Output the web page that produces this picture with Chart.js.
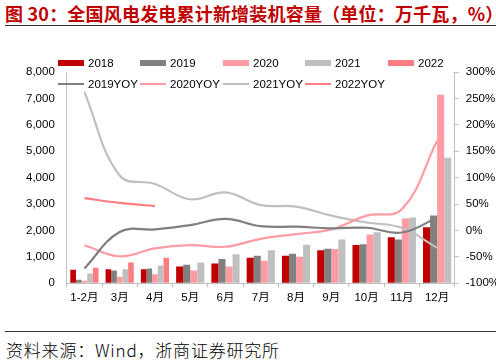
<!DOCTYPE html>
<html>
<head>
<meta charset="utf-8">
<script src="https://cdn.jsdelivr.net/npm/chart.js@4"></script>
<style>
  html, body { margin: 0; padding: 0; background: #fff; }
  body { width: 496px; height: 360px; overflow: hidden; position: relative; font-family: "Liberation Sans", "Noto Sans CJK SC", sans-serif; }
  #title { position: absolute; left: 5px; top: 0px; font: bold 18px "Noto Sans CJK SC", sans-serif; color: #C00000; white-space: nowrap; letter-spacing: 0.2px; }
  #rule1 { position: absolute; left: 5px; right: 0; top: 25px; border-top: 1.5px solid #333; }
  #rule2 { position: absolute; left: 5px; right: 0; top: 331px; border-top: 1.5px solid #333; }
  #source { position: absolute; left: 6px; top: 337px; font: 300 17px "Noto Sans CJK SC", sans-serif; color: #000; white-space: nowrap; letter-spacing: 0.8px; }
  #wrap { position: absolute; left: 0; top: 0; width: 506px; height: 320px; }
  .lg { position: absolute; font-size: 11.5px; color: #000; display: flex; align-items: center; white-space: nowrap; }
  .lg i { display: inline-block; width: 26px; margin-right: 4px; }
</style>
</head>
<body>
<div id="title">图 30：全国风电发电累计新增装机容量（单位：万千瓦，%）</div>
<div id="rule1"></div>
<div id="wrap"><canvas id="chart"></canvas></div>
<div id="legend"></div>
<div id="rule2"></div>
<div id="source">资料来源：Wind，浙商证券研究所</div>
<script>
const categories = ['1-2月', '3月', '4月', '5月', '6月', '7月', '8月', '9月', '10月', '11月', '12月'];

// cumulative new capacity, 10k kW
const cap2018 = [508, 533, 533, 635, 749, 965, 1041, 1244, 1448, 1740, 2121];
const cap2019 = [127, 483, 559, 698, 914, 1041, 1117, 1308, 1473, 1651, 2565];
const cap2020 = [90, 241, 343, 483, 635, 851, 1003, 1295, 1841, 2451, 7140];
const cap2021 = [368, 533, 673, 787, 1092, 1244, 1460, 1651, 1930, 2489, 4749];
const cap2022 = [584, 787, 965, null, null, null, null, null, null, null, null];

// yoy, %
const yoy2019 = [-72, -3, 2, 10, 22, 8, 7, 4, 5, -4, 24];
const yoy2020 = [-28, -49, -34, -28, -31, -16, -7, 2, 28, 40, 170];
const yoy2021 = [262, 104, 88, 59, 72, 48, 45, 28, 15, 5, -33];
const yoy2022 = [61, 52, 46, null, null, null, null, null, null, null, null];

const leftTicks = [0, 1000, 2000, 3000, 4000, 5000, 6000, 7000, 8000];
const rightTicks = [-100, -50, 0, 50, 100, 150, 200, 250, 300];

const bars = [
  { label: '2018', data: cap2018, color: '#C00000' },
  { label: '2019', data: cap2019, color: '#808080' },
  { label: '2020', data: cap2020, color: '#FF9BA3' },
  { label: '2021', data: cap2021, color: '#BFBFBF' },
  { label: '2022', data: cap2022, color: '#FF7C80' }
];
const lines = [
  { label: '2019YOY', data: yoy2019, color: '#7F7F7F' },
  { label: '2020YOY', data: yoy2020, color: '#FF9BA3' },
  { label: '2021YOY', data: yoy2021, color: '#BFBFBF' },
  { label: '2022YOY', data: yoy2022, color: '#FF7C80' }
];

// legend laid out in fixed columns like the original
const cols = [58, 140, 223, 305, 388];
let html = '';
bars.forEach((b, i) => {
  html += `<div class="lg" style="left:${cols[i]}px;top:56px;height:14px"><i style="height:6px;background:${b.color}"></i>${b.label}</div>`;
});
lines.forEach((l, i) => {
  html += `<div class="lg" style="left:${cols[i]}px;top:77px;height:14px"><i style="height:2.5px;background:${l.color}"></i>${l.label}</div>`;
});
document.getElementById('legend').innerHTML = html;

const datasets = [];
lines.forEach(l => datasets.push({
  type: 'line', label: l.label, data: l.data, yAxisID: 'y1',
  borderColor: l.color, borderWidth: 2.2, pointRadius: 0, tension: 0.4,
  fill: false, order: 0
}));
bars.forEach(b => datasets.push({
  type: 'bar', label: b.label, data: b.data, yAxisID: 'y',
  backgroundColor: b.color, borderWidth: 0, order: 1,
  categoryPercentage: 0.8, barPercentage: 1.0
}));

const tickFont = { family: '"Liberation Sans", "Noto Sans CJK SC", sans-serif', size: 11.5 };

new Chart(document.getElementById('chart'), {
  data: { labels: categories, datasets: datasets },
  options: {
    responsive: true,
    maintainAspectRatio: false,
    animation: false,
    skipNull: true,
    layout: { padding: { top: 72, left: 14, right: 0, bottom: 11 } },
    plugins: { legend: { display: false }, tooltip: { enabled: false } },
    scales: {
      x: {
        grid: { display: true, drawOnChartArea: false, offset: true, color: '#BFBFBF', tickLength: 4 },
        border: { color: '#BFBFBF' },
        ticks: { color: '#000', font: tickFont, padding: 4, maxRotation: 0, autoSkip: false }
      },
      y: {
        position: 'left', min: 0, max: 8000,
        afterBuildTicks: s => { s.ticks = leftTicks.map(v => ({ value: v })); },
        grid: { drawOnChartArea: false, drawTicks: false },
        border: { color: '#BFBFBF' },
        ticks: { color: '#000', font: tickFont, padding: 12,
          callback: v => v.toLocaleString('en-US') }
      },
      y1: {
        position: 'right', min: -100, max: 300,
        afterBuildTicks: s => { s.ticks = rightTicks.map(v => ({ value: v })); },
        grid: { drawOnChartArea: false, color: '#BFBFBF', tickLength: 4 },
        border: { color: '#BFBFBF' },
        ticks: { color: '#000', font: tickFont, padding: 7, callback: v => v + '%' }
      }
    }
  }
});
</script>
</body>
</html>
